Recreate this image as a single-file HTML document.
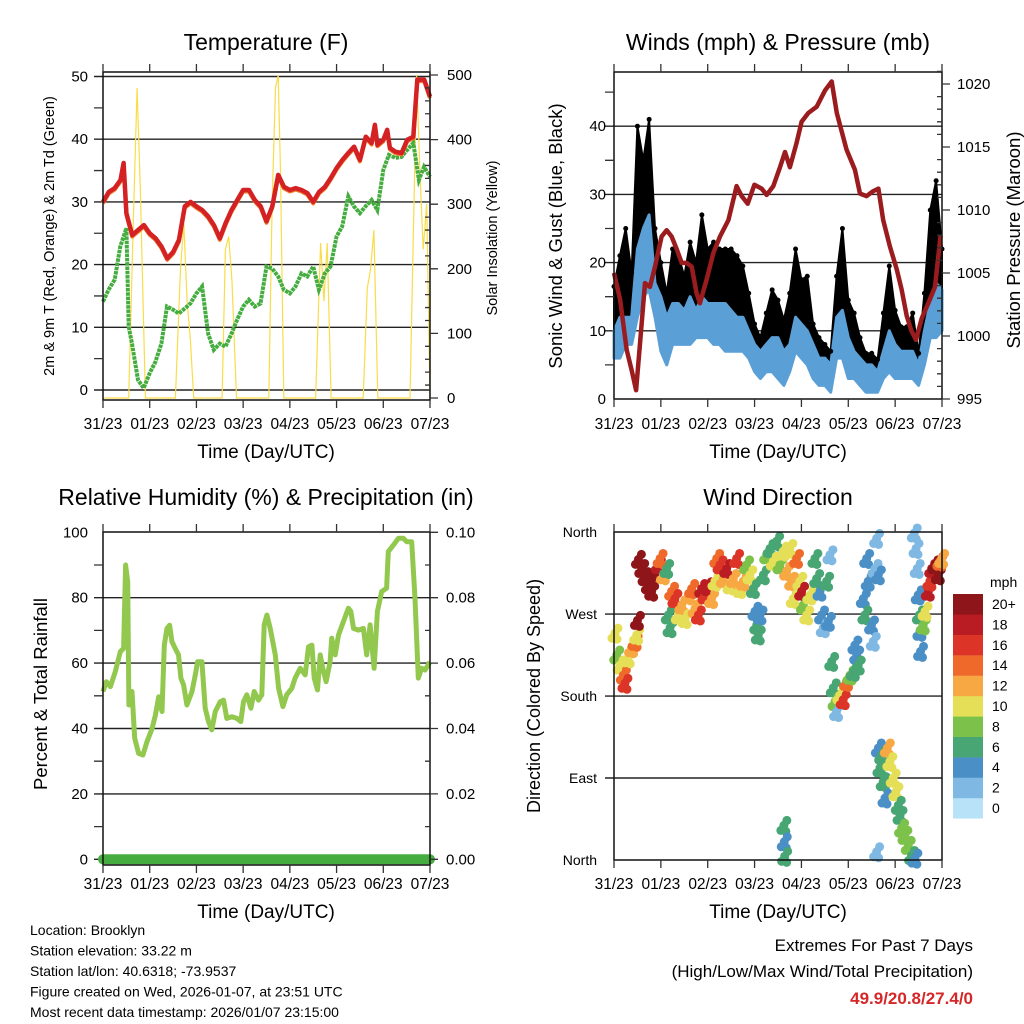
<!DOCTYPE html>
<html><head><meta charset="utf-8"><style>
html,body{margin:0;padding:0;background:#fff;}
svg{display:block;font-family:"Liberation Sans",Arial,sans-serif;}
</style></head><body>
<svg id="chart" width="1024" height="1024" viewBox="0 0 1024 1024" xmlns="http://www.w3.org/2000/svg">
<rect width="1024" height="1024" fill="#fff"/>
<text x="266" y="50" font-size="23" text-anchor="middle">Temperature (F)</text>
<text x="778" y="50" font-size="23" text-anchor="middle">Winds (mph) &amp; Pressure (mb)</text>
<text x="266" y="505" font-size="23" text-anchor="middle">Relative Humidity (%) &amp; Precipitation (in)</text>
<text x="778" y="505" font-size="23" text-anchor="middle">Wind Direction</text>
<text x="266" y="458" font-size="19" text-anchor="middle">Time (Day/UTC)</text>
<text x="778" y="458" font-size="19" text-anchor="middle">Time (Day/UTC)</text>
<text x="266" y="918" font-size="19" text-anchor="middle">Time (Day/UTC)</text>
<text x="778" y="918" font-size="19" text-anchor="middle">Time (Day/UTC)</text>
<text transform="translate(54,236) rotate(-90)" font-size="14.5" text-anchor="middle">2m &amp; 9m T (Red, Orange) &amp; 2m Td (Green)</text>
<text transform="translate(497,238) rotate(-90)" font-size="14.5" text-anchor="middle">Solar Insolation (Yellow)</text>
<text transform="translate(562,236) rotate(-90)" font-size="18.5" text-anchor="middle">Sonic Wind &amp; Gust (Blue, Black)</text>
<text transform="translate(1020,240) rotate(-90)" font-size="18.5" text-anchor="middle">Station Pressure (Maroon)</text>
<text transform="translate(47,694) rotate(-90)" font-size="18.5" text-anchor="middle">Percent &amp; Total Rainfall</text>
<text transform="translate(540,696) rotate(-90)" font-size="18" text-anchor="middle">Direction (Colored By Speed)</text>
<g font-size="14">
<text x="30" y="935">Location: Brooklyn</text>
<text x="30" y="955.5">Station elevation: 33.22 m</text>
<text x="30" y="976">Station lat/lon: 40.6318; -73.9537</text>
<text x="30" y="996.5">Figure created on Wed, 2026-01-07, at 23:51 UTC</text>
<text x="30" y="1017">Most recent data timestamp: 2026/01/07 23:15:00</text>
</g>
<text x="973" y="951" font-size="17" text-anchor="end">Extremes For Past 7 Days</text>
<text x="973" y="977" font-size="17" text-anchor="end">(High/Low/Max Wind/Total Precipitation)</text>
<text x="973" y="1004" font-size="17" font-weight="bold" fill="#d62728" text-anchor="end">49.9/20.8/27.4/0</text>
<text x="990" y="587" font-size="14">mph</text>
</svg>
<script>
// ---------- data ----------
const dayLabels=['31/23','01/23','02/23','03/23','04/23','05/23','06/23','07/23'];
const tempTicks=[0,10,20,30,40,50];
const solarTicks=[0,100,200,300,400,500];
const windTicks=[0,10,20,30,40];
const presTicks=[995,1000,1005,1010,1015,1020];
const rhTicks=[0,20,40,60,80,100];
const precipTicks=['0.00','0.02','0.04','0.06','0.08','0.10'];
const dirTicks=['North','East','South','West','North'];
const speedBins=['0','2','4','6','8','10','12','14','16','18','20+'];
const binColors=['#b8e2f8','#7fb9e3','#4a8fc6','#47a673','#7cc24a','#e5df58','#f7a843','#ef6a2a','#dc3528','#b91c22','#8e1519'];

const tempHours=[0,3,6,9,10.6,12,15,18,21,24,27,30,33,36,39,42,45,48,51,54,57,60,63,66,69,72,75,78,81,84,87,90,93,96,99,102,105,108,111,114,117,120,123,126,129,132,135,138,139.7,141,144,146,147.4,150.3,153.4,156.3,159.4,161.5,165,168];
const tempVals=[30.0,31.6,32.2,33.5,36.2,28.2,24.7,25.5,26.3,25,24.2,22.9,21,22,23.9,29.3,30.0,29.3,28.7,27.7,26.3,24.2,26.6,28.7,30.3,31.9,31.9,30.3,29.3,26.9,29.3,34.3,32.4,31.9,32.2,31.9,31.4,30.0,31.6,32.4,33.8,35.4,36.7,37.8,38.8,36.7,40.4,39.4,42.3,39.1,39.9,41.5,38.6,38,37.8,39.9,40.4,49.5,49.5,46.8];
const dewHours=[0,2.9,6,8.9,12,13.2,14.9,18,20.9,24,26.9,30,32.9,36,38.9,42,44.9,48,50.9,54,56.9,60,62.9,66,68.9,72,74.9,78,80.9,84,86.9,90,92.9,96,98.9,102,104.9,108,110.9,114,116.9,120,122.9,126,128.9,132,134.9,138,140.9,144,146.9,150.3,153.4,156.3,159.4,162.3,164.9,168];
const dewVals=[14.1,16,17.6,22.9,25.8,10.1,7.4,1.6,0.3,2.7,4.5,7.4,13.3,12.8,12.2,13,13.8,15.4,16.5,9,6.4,7.4,6.9,9,11.2,13.3,14.4,13.3,13.8,19.7,19.4,18.1,16,15.4,16.5,18.6,18.1,19.7,16,18.6,19.7,24.5,26.1,30.9,29.3,28.2,29.3,30.3,28.7,35.1,37.5,37,37.2,38.3,39.4,33.5,35.6,34];
const solarHours=[0,13.2,15.8,17.5,19.2,21.8,37.2,39.8,41.5,43.2,44.9,46.6,61.2,62.9,64.6,66.3,68.6,85.2,86.9,88.6,90,91.2,92.9,109.2,111.8,113.5,115.2,117.2,133.7,135.8,137.5,139.2,141.2,157.7,159.4,161.1,162.8,164.5,166.3,168];
const solarVals=[0,0,300,480,320,0,0,200,270,150,90,0,0,230,250,180,0,0,300,480,500,350,0,0,240,150,240,0,0,170,200,260,0,0,250,500,350,230,300,0];

const presHours=[0,3.1,6.5,9,11.3,13.3,15.9,18.4,21,24.4,27,29.5,32.1,34.7,37.2,39.8,42.3,44,47.5,50.9,54.3,58.6,62.8,65.4,68.5,71.9,75.6,78.2,81.6,85,87.6,90.1,93.5,96.1,99.5,103.8,108.1,111.5,114.1,119.1,123.4,126,129.4,132.8,135.4,137.9,141.3,144.8,147.3,149.9,152.4,154.7,157.6,161,164.4,167.3];
const presVals=[1005.0,1002.9,998.9,997.3,995.7,999.4,1004.2,1003.9,1005.5,1007.9,1008.4,1007.9,1006.9,1005.8,1005.8,1005.5,1003.4,1002.6,1004.5,1006.6,1007.9,1009.2,1011.9,1011.1,1010.5,1012.0,1011.7,1011.2,1011.9,1013.4,1014.6,1013.4,1015.3,1017.0,1017.7,1018.2,1019.5,1020.2,1017.7,1014.8,1013.2,1011.3,1011.1,1011.5,1011.7,1009.2,1007.1,1005.3,1003.7,1001.6,1000.4,999.7,1001.4,1002.6,1003.9,1008.0];
const gustVals=[16.5,21,25,18.5,40,35,41,25,20,15.5,22,21,18,23,20,27,22,23,22,22,22,21,19.5,15.5,11,9,12.6,16,14.5,11.6,15.5,22,17.5,18,11,9,8,7,18,25,14.5,12.6,9,6.7,6.7,5.8,12.6,19.5,13,10.6,10.6,12.6,6.7,15.5,27.7,32,22];
const windVals=[10,12,12,12,22,25,27,17,15,12,14,14,13,15,13,15,14,14,14,14,13,12,12,10,8,7,8,9,9,7,8,12,11,10,8,6,6,5,12,13,9,7,6,5,5,4,7,10,8,7,7,7,5,10,14,17,16];
const windLowVals=[6,6,8,8,12,15,16,12,7,5,8,8,8,8,9,9,9,8,8,7,7,7,7,6,4,3,4,4,3,2,4,7,6,5,3,2,2,1,6,6,3,3,2,1,1,1,3,4,3,3,3,3,2,5,9,9,10];

const rhHours=[0,1.7,3.8,6.3,8.9,10.6,11.6,12.7,13.3,14.9,16.3,18.3,20.5,22.6,25.2,26.9,28.6,30.3,31.5,32.9,34.2,35.4,37.1,38.8,40,41.4,43.1,45.7,47.4,48.6,50.8,52.5,54.2,55.9,57.7,60.2,61.9,63.6,66.2,68.8,70.8,72.2,73.9,76,77.7,79.9,81.6,82.8,84.2,85.9,88.5,90.2,92.4,94.4,97,98.7,101.3,103.9,105.6,107.3,108.5,110.2,111.6,112.9,114.6,116.7,117.5,119.3,121,123.5,126.1,127.3,128.7,131.2,133.8,135.5,137.2,139.3,141,143.2,145.7,146.6,149.2,151.8,154.3,156.1,158.6,160.3,162,163.7,165.5,168];
const rhVals=[51.3,54.3,52.8,57.4,63.5,64.5,90,84.9,47.2,51.3,37,32.4,31.9,36,40,44.1,49.7,45.2,65.5,70.6,71.6,66.6,64.5,62.5,55.4,53.3,47.2,51.3,56.4,60.4,60.4,46.2,42.1,39.6,45.2,48.2,48.7,43.1,43.6,43.1,42.1,48.2,50.3,46.2,51.3,48.7,50.3,71.7,74.7,70.6,62.5,52.3,46.7,50.3,52.3,55.4,58.4,56.4,65,65.5,55.4,51.8,62.5,58.4,54.3,60.4,67.6,62.5,68.6,72.7,76.8,75.8,70.6,70.1,70.6,62.5,71.7,58.4,75.8,81.9,82.9,94.1,96.1,98.2,98.2,97.1,97.1,79.8,55.4,58.4,57.9,60.4];
const precipHours=[0,168];
const precipVals=[0,0];

const dirHours=[0.5,1.4,3.1,4.8,5.6,7.3,9,10.8,11.6,12.5,14.2,15.9,17.6,19.3,21,22.7,23.6,25.3,27,12,27.8,28.7,29.5,31.2,32.9,34.7,36.4,38.1,39.8,41.5,43.2,44.9,46.6,48.3,50,51.7,52.6,54.3,56,57.7,59.4,61.1,62.8,64.5,66.2,67.9,69.6,71.4,72.2,73.1,73.9,74.8,76.5,78.2,79.9,81.6,83.3,85,86.7,88.4,90.1,91,91.8,93.5,95.2,96.1,97,98.7,100.4,102.9,103.8,105.5,106.3,107.2,108.9,109.8,110.6,111.5,112.3,113.2,114,115.7,117.4,119.1,120.9,122.6,124.3,125.1,123.4,127.7,128.5,129.4,130.2,131.9,133.7,134.5,132.8,135.4,87,87.2,87.4,135.4,136.2,137.1,137.9,138.8,140,141.3,143,144.4,145.6,146.5,147.3,149,150.7,152.4,154.1,134.5,153.8,154.7,155.3,155.8,156.4,156.7,157,158.4,159.3,161,161.8,162.7,164.4,166.1,166.9,167.8];
const dirDeg=[249,225,214,203,194,222,233,240,247,330,320,311,302,295,317,324,331,313,320,263,269,255,295,287,269,280,265,291,298,276,269,298,291,300,287,306,331,324,309,320,302,309,331,298,306,324,313,298,273,258,247,269,313,335,342,328,350,324,339,317,342,306,287,331,306,295,280,269,291,331,309,295,269,255,306,262,335,218,189,174,163,181,176,196,203,207,225,214,236,287,269,331,306,258,320,353,240,313,38,20,4,123,101,115,86,68,123,108,90,75,60,49,35,27,16,5,2,9,359,342,320,291,269,251,229,258,273,295,306,320,324,313,328,331];
const dirSpeed=[10,8,10,14,16,10,12,14,10,20,20,20,20,20,20,18,14,12,6,20,6,6,14,16,10,12,10,12,14,12,16,18,16,18,12,10,14,16,12,18,10,12,16,10,12,8,10,6,4,6,6,4,6,8,6,10,6,8,10,12,10,12,10,14,10,18,8,10,10,6,6,4,4,2,6,4,2,6,6,8,2,10,16,14,8,6,4,6,4,4,6,4,4,4,2,2,2,4,6,4,6,4,6,6,6,4,12,10,10,10,6,6,8,8,8,6,4,2,2,2,2,4,6,4,4,8,10,18,16,18,20,20,14,12];

// ---------- scales ----------
const NS='http://www.w3.org/2000/svg';
const svg=document.getElementById('chart');
const tx=h=>103+h/168*327;
const wx=h=>614+h/168*328;
const tempY=v=>390-v*6.27;
const solarY=w=>398-w*0.646;
const windY=v=>399-v*6.82;
const presY=p=>336-(p-1000)*12.6;
const rhY=v=>859.3-v*3.27;
const precipY=v=>859.3-v*3270;
const dirY=d=>860-d*0.911;
const binOf=s=>Math.min(10,Math.floor(s/2));

function mk(tag,parent){const e=document.createElementNS(NS,tag);(parent||svg).appendChild(e);return e;}
function pathD(xs,ys){return xs.map((x,i)=>(i?'L':'M')+x.toFixed(1)+','+ys[i].toFixed(1)).join('');}
function txt(x,y,s,anchor,size){const t=mk('text');t.setAttribute('x',x);t.setAttribute('y',y);t.setAttribute('text-anchor',anchor);t.setAttribute('font-size',size);t.textContent=s;return t;}
function line(x1,y1,x2,y2,stroke,w){const l=mk('line');l.setAttribute('x1',x1);l.setAttribute('y1',y1);l.setAttribute('x2',x2);l.setAttribute('y2',y2);l.setAttribute('stroke',stroke);l.setAttribute('stroke-width',w);return l;}
function ticksPath(d){const p=mk('path');p.setAttribute('d',d);p.setAttribute('stroke','#333');p.setAttribute('stroke-width','1.3');p.setAttribute('fill','none');return p;}

// ---------- gridlines ----------
tempTicks.forEach(v=>{const g=line(94,tempY(v),430,tempY(v),'#222','1.4');

});
windTicks.slice(1).forEach(v=>{const g=line(605,windY(v),942,windY(v),'#222','1.4');

});
rhTicks.slice(0,5).forEach(v=>{const g=line(94,rhY(v),430,rhY(v),'#222','1.4');

});
[90,180,270].forEach(v=>{const g=line(605,dirY(v),942,dirY(v),'#222','1.4');

});

// ---------- temperature panel ----------
const solar=mk('path');
solar.setAttribute('d',pathD(solarHours.map(tx),solarVals.map(solarY)));
solar.setAttribute('fill','none');solar.setAttribute('stroke','#f9dc4a');solar.setAttribute('stroke-width','1.2');


const dew=mk('path');
dew.setAttribute('d',pathD(dewHours.map(tx),dewVals.map(tempY)));
dew.setAttribute('fill','none');dew.setAttribute('stroke','#45ad3f');dew.setAttribute('stroke-width','4');dew.setAttribute('stroke-dasharray','3.5 0.8');


const t9=mk('path');
t9.setAttribute('d',pathD(tempHours.map(tx),tempVals.map(v=>tempY(v)+1.5)));
t9.setAttribute('fill','none');t9.setAttribute('stroke','#f07a2a');t9.setAttribute('stroke-width','4');t9.setAttribute('stroke-linejoin','round');


const t2=mk('path');
t2.setAttribute('d',pathD(tempHours.map(tx),tempVals.map(tempY)));
t2.setAttribute('fill','none');t2.setAttribute('stroke','#d42224');t2.setAttribute('stroke-width','4.5');t2.setAttribute('stroke-linejoin','round');



// ---------- winds panel ----------
const idx=gustVals.map((v,i)=>i*3);
const blackBand=mk('path');
blackBand.setAttribute('d',pathD(idx.map(wx).concat(idx.slice().reverse().map(wx)),gustVals.map(windY).concat(windVals.slice().reverse().map(windY)))+'Z');
blackBand.setAttribute('fill','#000');blackBand.setAttribute('stroke','#000');blackBand.setAttribute('stroke-width','2');blackBand.setAttribute('stroke-linejoin','round');


const blueBand=mk('path');
blueBand.setAttribute('d',pathD(idx.map(wx).concat(idx.slice().reverse().map(wx)),windVals.map(windY).concat(windLowVals.slice().reverse().map(windY)))+'Z');
blueBand.setAttribute('fill','#5a9fd6');blueBand.setAttribute('stroke','#5a9fd6');blueBand.setAttribute('stroke-width','3');blueBand.setAttribute('stroke-linejoin','round');


gustVals.forEach((v,i)=>{const c=mk('circle');c.setAttribute('cx',wx(i*3));c.setAttribute('cy',windY(v));c.setAttribute('r','2.5');c.setAttribute('fill','#000');

});
const pres=mk('path');
pres.setAttribute('d',pathD(presHours.map(wx),presVals.map(presY)));
pres.setAttribute('fill','none');pres.setAttribute('stroke','#9b1c1f');pres.setAttribute('stroke-width','4.5');pres.setAttribute('stroke-linejoin','round');



// ---------- humidity panel ----------
const rh=mk('path');
rh.setAttribute('d',pathD(rhHours.map(tx),rhVals.map(rhY)));
rh.setAttribute('fill','none');rh.setAttribute('stroke','#92c84e');rh.setAttribute('stroke-width','5');rh.setAttribute('stroke-linejoin','round');


const pr=mk('path');
pr.setAttribute('d',pathD(precipHours.map(tx),precipVals.map(precipY)));
pr.setAttribute('fill','none');pr.setAttribute('stroke','#45ad3f');pr.setAttribute('stroke-width','10');pr.setAttribute('stroke-linecap','round');



// ---------- wind direction panel ----------
const jitter=[[0,0],[-3,5],[3,-5],[2,6]];
dirHours.forEach((h,i)=>{jitter.forEach(o=>{const c=mk('circle');c.setAttribute('cx',wx(h)+o[0]);c.setAttribute('cy',dirY(dirDeg[i])+o[1]);c.setAttribute('r','4.5');c.setAttribute('fill',binColors[binOf(dirSpeed[i])]);

});});

// ---------- frames ----------
[[103,72,327,328,'temperature-plot-frame'],[614,72,328,327,'winds-plot-frame'],[103,532,327,333,'humidity-plot-frame'],[614,532,328,328,'direction-plot-frame']].forEach(f=>{
const r=mk('rect');r.setAttribute('x',f[0]);r.setAttribute('y',f[1]);r.setAttribute('width',f[2]);r.setAttribute('height',f[3]);r.setAttribute('fill','none');r.setAttribute('stroke','#111');r.setAttribute('stroke-width','1.5');

});

// ---------- ticks ----------
let d='';
dayLabels.forEach((s,i)=>{const a=tx(i*24),b=wx(i*24);d+=`M${a},72V64M${a},400V408M${b},72V64M${b},399V407M${a},532V524M${a},865V873M${b},532V524M${b},860V868`;});
const xt=ticksPath(d);


d='';
for(let v=5;v<=50;v+=10)d+=`M94,${tempY(v)}H103`;
for(let w=0;w<=500;w+=20)d+=(w%100===0)?`M430,${solarY(w)}H438`:`M430,${solarY(w)}H425`;
for(let v=5;v<=45;v+=10)d+=`M605,${windY(v)}H614`;
for(let p=995;p<=1021;p++)d+=(p%5===0)?`M942,${presY(p)}H950`:`M942,${presY(p)}H937`;
for(let v=10;v<=90;v+=20)d+=`M94,${rhY(v)}H103`;
for(let v=0;v<=10;v++)d+=(v%2===0)?`M430,${rhY(v*10)}H438`:`M430,${rhY(v*10)}H425`;
const yt=ticksPath(d);



// ---------- tick labels ----------
dayLabels.forEach((s,i)=>{
let t=txt(tx(i*24),429,s,'middle',15.5);


t=txt(wx(i*24),429,s,'middle',15.5);


t=txt(tx(i*24),889,s,'middle',15.5);


t=txt(wx(i*24),889,s,'middle',15.5);

});
tempTicks.forEach(v=>{const t=txt(88,tempY(v)+5,String(v),'end',15);

});
solarTicks.forEach(v=>{const t=txt(447,solarY(v)+5,String(v),'start',15);

});
windTicks.forEach(v=>{const t=txt(606,windY(v)+5,String(v),'end',15);

});
presTicks.forEach(v=>{const t=txt(957,presY(v)+5,String(v),'start',15);

});
rhTicks.forEach(v=>{const t=txt(88,rhY(v)+5,String(v),'end',15);

});
precipTicks.forEach(s=>{const t=txt(446,precipY(parseFloat(s))+5,s,'start',15);

});
dirTicks.forEach((s,i)=>{const t=txt(597,dirY(i*90)+5,s,'end',14);

});

// ---------- colorbar ----------
speedBins.forEach((s,i)=>{const y=594+(10-i)*20.4;
const r=mk('rect');r.setAttribute('x',953);r.setAttribute('y',y);r.setAttribute('width',30);r.setAttribute('height',20.6);r.setAttribute('fill',binColors[i]);


const t=txt(992,y+15,s,'start',14);

});
</script>
</body></html>
